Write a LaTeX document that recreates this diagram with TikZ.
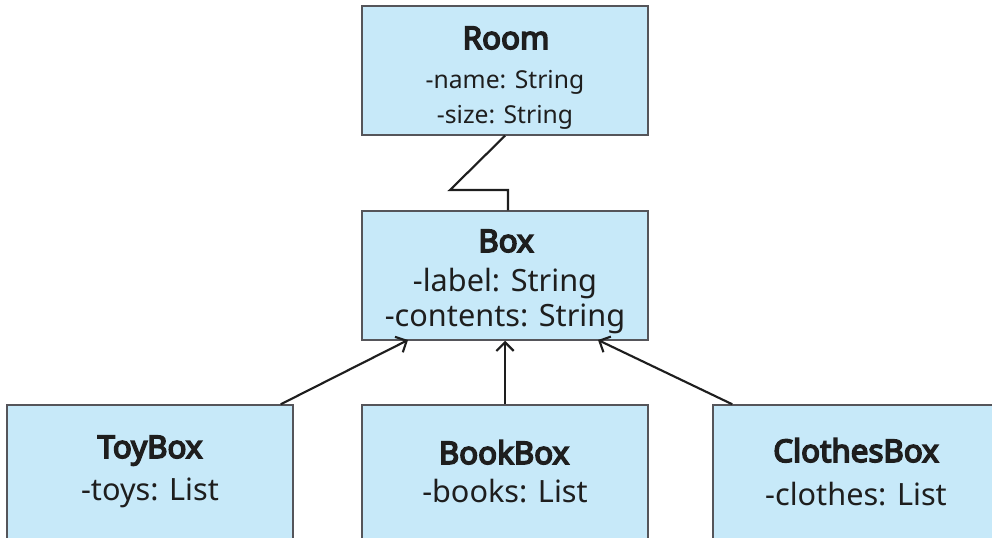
\documentclass[tikz,border=0pt]{standalone}
\usepackage{fontspec}
\setmainfont{Noto Sans}[AutoFakeBold=5]
\usetikzlibrary{arrows.meta}
\definecolor{classfill}{RGB}{199,233,249}
\definecolor{classedge}{RGB}{85,85,90}
\definecolor{linkcol}{RGB}{30,30,30}
\tikzset{
  cls/.style={draw=classedge, fill=classfill, line width=1.1pt, inner sep=0pt, minimum width=214.5pt},
  ttl/.style={anchor=base, font=\bfseries\fontsize{#1}{#1}\selectfont, text=linkcol},
  attr/.style={anchor=base, font=\fontsize{#1}{#1}\selectfont, text=linkcol},
  link/.style={draw=linkcol, line width=1.6pt},
  gen/.style={link, -{Straight Barb[length=6.5pt,width=13pt,line width=1.6pt]}}
}
\begin{document}
\begin{tikzpicture}[x=0.75pt,y=-0.75pt]
  \useasboundingbox (0,0) rectangle (992,537);
  \clip (0,0) rectangle (992,537);

  % class boxes
  \node[cls, minimum height=96.75pt] (room) at (505,70.5) {};
  \node[cls, minimum height=96.75pt] (box) at (505,275.5) {};
  \node[cls, minimum height=120pt] (toy) at (150,485) {};
  \node[cls, minimum height=120pt] (book) at (505,485) {};
  \node[cls, minimum height=120pt] (clothes) at (856,485) {};

  % class texts
  \node[ttl=23.5pt] (roomT) at (506,49) {Room};
  \node[attr=18.5pt] (roomA) at (505,88) {-name: String};
  \node[attr=18.5pt] (roomB) at (505,123) {-size: String};

  \node[ttl=23.5pt] (boxT) at (506,252) {Box};
  \node[attr=23pt] (boxA) at (505,291) {-label: String};
  \node[attr=23pt] (boxB) at (505,326) {-contents: String};

  \node[ttl=23.5pt] (toyT) at (150,458) {ToyBox};
  \node[attr=23pt] (toyA) at (150,500) {-toys: List};

  \node[ttl=23.5pt] (bookT) at (504,464) {BookBox};
  \node[attr=23pt] (bookA) at (505,502) {-books: List};

  \node[ttl=23.5pt] (clothesT) at (856,462) {ClothesBox};
  \node[attr=23pt] (clothesA) at (856,505) {-clothes: List};

  % association Room -- Box
  \coordinate (bendA) at (450,190);
  \coordinate (bendB) at (508,190);
  \draw[link, line join=miter] (room.south) -- (bendA) -- (bendB) -- (bendB |- box.north);

  % generalisations towards Box
  \coordinate (toyEnd) at (408,340);
  \coordinate (clothesEnd) at (598,340);
  \draw[gen] ([xshift=-9.75pt]toy.north east) -- (toyEnd);
  \draw[gen] (book.north) -- (box.south);
  \draw[gen] ([xshift=15pt]clothes.north west) -- (clothesEnd);
\end{tikzpicture}
\end{document}
